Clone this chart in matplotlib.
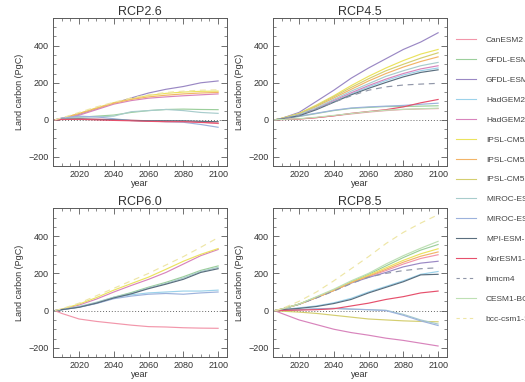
import matplotlib
matplotlib.use("Agg")
import matplotlib.pyplot as plt
from matplotlib.ticker import MultipleLocator
from matplotlib.lines import Line2D

years = [2006, 2010, 2020, 2030, 2040, 2050, 2060, 2070, 2080, 2090, 2100]

models = ["CanESM2", "GFDL-ESM2G", "GFDL-ESM2M", "HadGEM2-CC", "HadGEM2-ES",
          "IPSL-CM5A-LR", "IPSL-CM5A-MR", "IPSL-CM5B-LR", "MIROC-ESM",
          "MIROC-ESM-CHEM", "MPI-ESM-LR", "NorESM1-ME", "inmcm4",
          "CESM1-BGC", "bcc-csm1-1"]

colors = ["#f296aa", "#9ccf9c", "#9a88c4", "#9cd2ea", "#d884bc",
          "#ebe35e", "#f2b468", "#d4ce70", "#a8cccc",
          "#9cb2dc", "#5a6e7e", "#e6506c", "#9096a8",
          "#bee0b4", "#eee6a6"]

dashed = ["inmcm4", "bcc-csm1-1"]

# Cumulative land carbon uptake (PgC) relative to 2006
rcp26 = {
    "GFDL-ESM2M":     [0, 8, 30, 60, 90, 118, 145, 165, 180, 200, 210],
    "bcc-csm1-1":     [0, 10, 40, 70, 95, 118, 135, 148, 155, 160, 162],
    "IPSL-CM5A-LR":   [0, 8, 35, 65, 93, 113, 132, 143, 150, 154, 155],
    "IPSL-CM5A-MR":   [0, 8, 34, 62, 90, 110, 124, 133, 140, 145, 148],
    "HadGEM2-ES":     [0, 6, 25, 55, 85, 104, 117, 124, 130, 135, 140],
    "GFDL-ESM2G":     [0, 5, 14, 20, 26, 40, 50, 56, 58, 56, 55],
    "MIROC-ESM":      [0, 5, 15, 16, 20, 44, 50, 56, 50, 40, 35],
    "MIROC-ESM-CHEM": [0, 10, 20, 16, 6, -4, -6, -10, -13, -25, -40],
    "MPI-ESM-LR":     [0, 3, 5, 2, 0, -3, -5, -5, -5, -8, -10],
    "NorESM1-ME":     [0, 2, 3, 0, -3, -5, -8, -10, -10, -14, -18],
    "CanESM2":        [0, 3, 6, 5, 2, -2, -5, -6, -8, -12, -20],
}

rcp45 = {
    "GFDL-ESM2M":     [0, 8, 40, 100, 160, 225, 280, 330, 380, 420, 470],
    "IPSL-CM5A-LR":   [0, 8, 35, 80, 130, 185, 235, 280, 320, 355, 380],
    "IPSL-CM5B-LR":   [0, 8, 33, 76, 125, 175, 222, 265, 300, 333, 362],
    "IPSL-CM5A-MR":   [0, 8, 32, 72, 118, 165, 210, 250, 285, 315, 340],
    "MIROC-ESM":      [0, 6, 28, 65, 110, 155, 195, 235, 265, 292, 310],
    "HadGEM2-ES":     [0, 6, 26, 62, 105, 146, 185, 220, 250, 275, 292],
    "HadGEM2-CC":     [0, 6, 25, 60, 100, 140, 178, 212, 242, 265, 280],
    "MPI-ESM-LR":     [0, 5, 22, 55, 95, 135, 170, 202, 232, 256, 270],
    "inmcm4":         [0, 5, 25, 60, 95, 130, 160, 178, 188, 193, 197],
    "NorESM1-ME":     [0, 2, 5, 12, 22, 35, 45, 55, 70, 92, 110],
    "MIROC-ESM-CHEM": [0, 5, 20, 36, 52, 64, 70, 74, 78, 84, 90],
    "GFDL-ESM2G":     [0, 5, 18, 34, 50, 62, 67, 72, 72, 74, 76],
    "CanESM2":        [0, 1, 4, 12, 22, 32, 42, 50, 56, 59, 61],
    "CESM1-BGC":      [0, 2, 6, 14, 24, 34, 44, 52, 57, 60, 63],
}

rcp60 = {
    "bcc-csm1-1":     [0, 10, 40, 80, 120, 160, 200, 245, 290, 340, 392],
    "IPSL-CM5A-LR":   [0, 8, 35, 70, 110, 145, 180, 222, 265, 302, 333],
    "HadGEM2-ES":     [0, 7, 30, 62, 100, 135, 168, 205, 250, 295, 328],
    "GFDL-ESM2G":     [0, 5, 20, 42, 72, 97, 126, 152, 182, 216, 240],
    "MPI-ESM-LR":     [0, 5, 18, 40, 68, 90, 118, 142, 168, 205, 225],
    "MIROC-ESM":      [0, 5, 22, 45, 72, 92, 122, 146, 175, 210, 232],
    "HadGEM2-CC":     [0, 5, 20, 40, 70, 85, 95, 100, 105, 105, 110],
    "MIROC-ESM-CHEM": [0, 5, 18, 38, 64, 78, 88, 92, 88, 95, 100],
    "CanESM2":        [0, -15, -45, -58, -68, -78, -86, -88, -92, -94, -95],
}

rcp85 = {
    "bcc-csm1-1":     [0, 10, 50, 100, 160, 225, 290, 360, 420, 470, 515],
    "CESM1-BGC":      [0, 8, 35, 75, 115, 160, 200, 250, 295, 335, 372],
    "GFDL-ESM2G":     [0, 8, 35, 72, 110, 155, 195, 240, 285, 325, 355],
    "IPSL-CM5A-LR":   [0, 8, 35, 72, 110, 152, 190, 230, 270, 305, 332],
    "IPSL-CM5A-MR":   [0, 8, 34, 70, 108, 150, 185, 222, 260, 292, 315],
    "CanESM2":        [0, 8, 34, 70, 108, 150, 183, 215, 250, 280, 300],
    "GFDL-ESM2M":     [0, 8, 34, 70, 108, 148, 178, 205, 235, 255, 265],
    "inmcm4":         [0, 8, 34, 68, 105, 145, 180, 200, 215, 225, 230],
    "HadGEM2-CC":     [0, 5, 15, 25, 42, 66, 100, 130, 160, 195, 210],
    "MPI-ESM-LR":     [0, 5, 12, 22, 38, 60, 95, 125, 155, 192, 195],
    "NorESM1-ME":     [0, 1, 3, 5, 10, 25, 40, 60, 75, 95, 105],
    "MIROC-ESM":      [0, 2, 5, 8, 12, 8, 5, 2, -20, -50, -72],
    "MIROC-ESM-CHEM": [0, 2, 5, 10, 12, 8, 5, 0, -25, -55, -80],
    "IPSL-CM5B-LR":   [0, -3, -8, -15, -25, -35, -45, -50, -55, -58, -60],
    "HadGEM2-ES":     [0, -15, -50, -75, -100, -118, -132, -148, -160, -175, -190],
}

titles = ["RCP2.6", "RCP4.5", "RCP6.0", "RCP8.5"]
scenarios = [rcp26, rcp45, rcp60, rcp85]

plt.rcParams["font.family"] = ["Liberation Sans", "DejaVu Sans"]

fig = plt.figure(figsize=(5.25, 3.82), dpi=100)
positions = [
    [0.101, 0.565, 0.331, 0.388],
    [0.520, 0.565, 0.331, 0.388],
    [0.101, 0.065, 0.331, 0.390],
    [0.520, 0.065, 0.331, 0.390],
]

axis_col = "#5a5a5a"
for pos, title, data in zip(positions, titles, scenarios):
    ax = fig.add_axes(pos)
    ax.axhline(0, color="#666666", lw=0.7, ls=(0, (1, 2)), zorder=1)
    for name in models:
        if name not in data:
            continue
        i = models.index(name)
        ls = (0, (5, 4)) if name in dashed else "-"
        ax.plot(years, data[name], color=colors[i], lw=0.85, ls=ls, zorder=2)
    ax.set_xlim(2005, 2105)
    ax.set_ylim(-250, 550)
    ax.xaxis.set_minor_locator(MultipleLocator(5))
    ax.yaxis.set_minor_locator(MultipleLocator(50))
    ax.set_xticks([2020, 2040, 2060, 2080, 2100])
    ax.set_yticks([-200, 0, 200, 400])
    ax.tick_params(which="both", direction="in", top=True, right=True,
                   color=axis_col, labelsize=6.5, labelcolor="#333333", pad=3)
    ax.tick_params(which="major", length=4, width=0.6)
    ax.tick_params(which="minor", length=2, width=0.5)
    for s in ax.spines.values():
        s.set_color(axis_col)
        s.set_linewidth(0.7)
    ax.set_title(title, fontsize=9, color="#333333", pad=2)
    ax.set_xlabel("year", fontsize=6.5, color="#333333", labelpad=0)
    ax.set_ylabel("Land carbon (PgC)", fontsize=6.5, color="#333333", labelpad=3)

handles = []
for i, name in enumerate(models):
    ls = (0, (3, 3)) if name in dashed else "-"
    handles.append(Line2D([], [], color=colors[i], lw=0.8, ls=ls))

fig.legend(handles, models, loc="upper left", bbox_to_anchor=(0.862, 0.914),
           frameon=False, fontsize=6, labelspacing=1.45, handlelength=2.4,
           handletextpad=1.2, borderaxespad=0, labelcolor="#444444")

fig.savefig("out.png", dpi=100)
